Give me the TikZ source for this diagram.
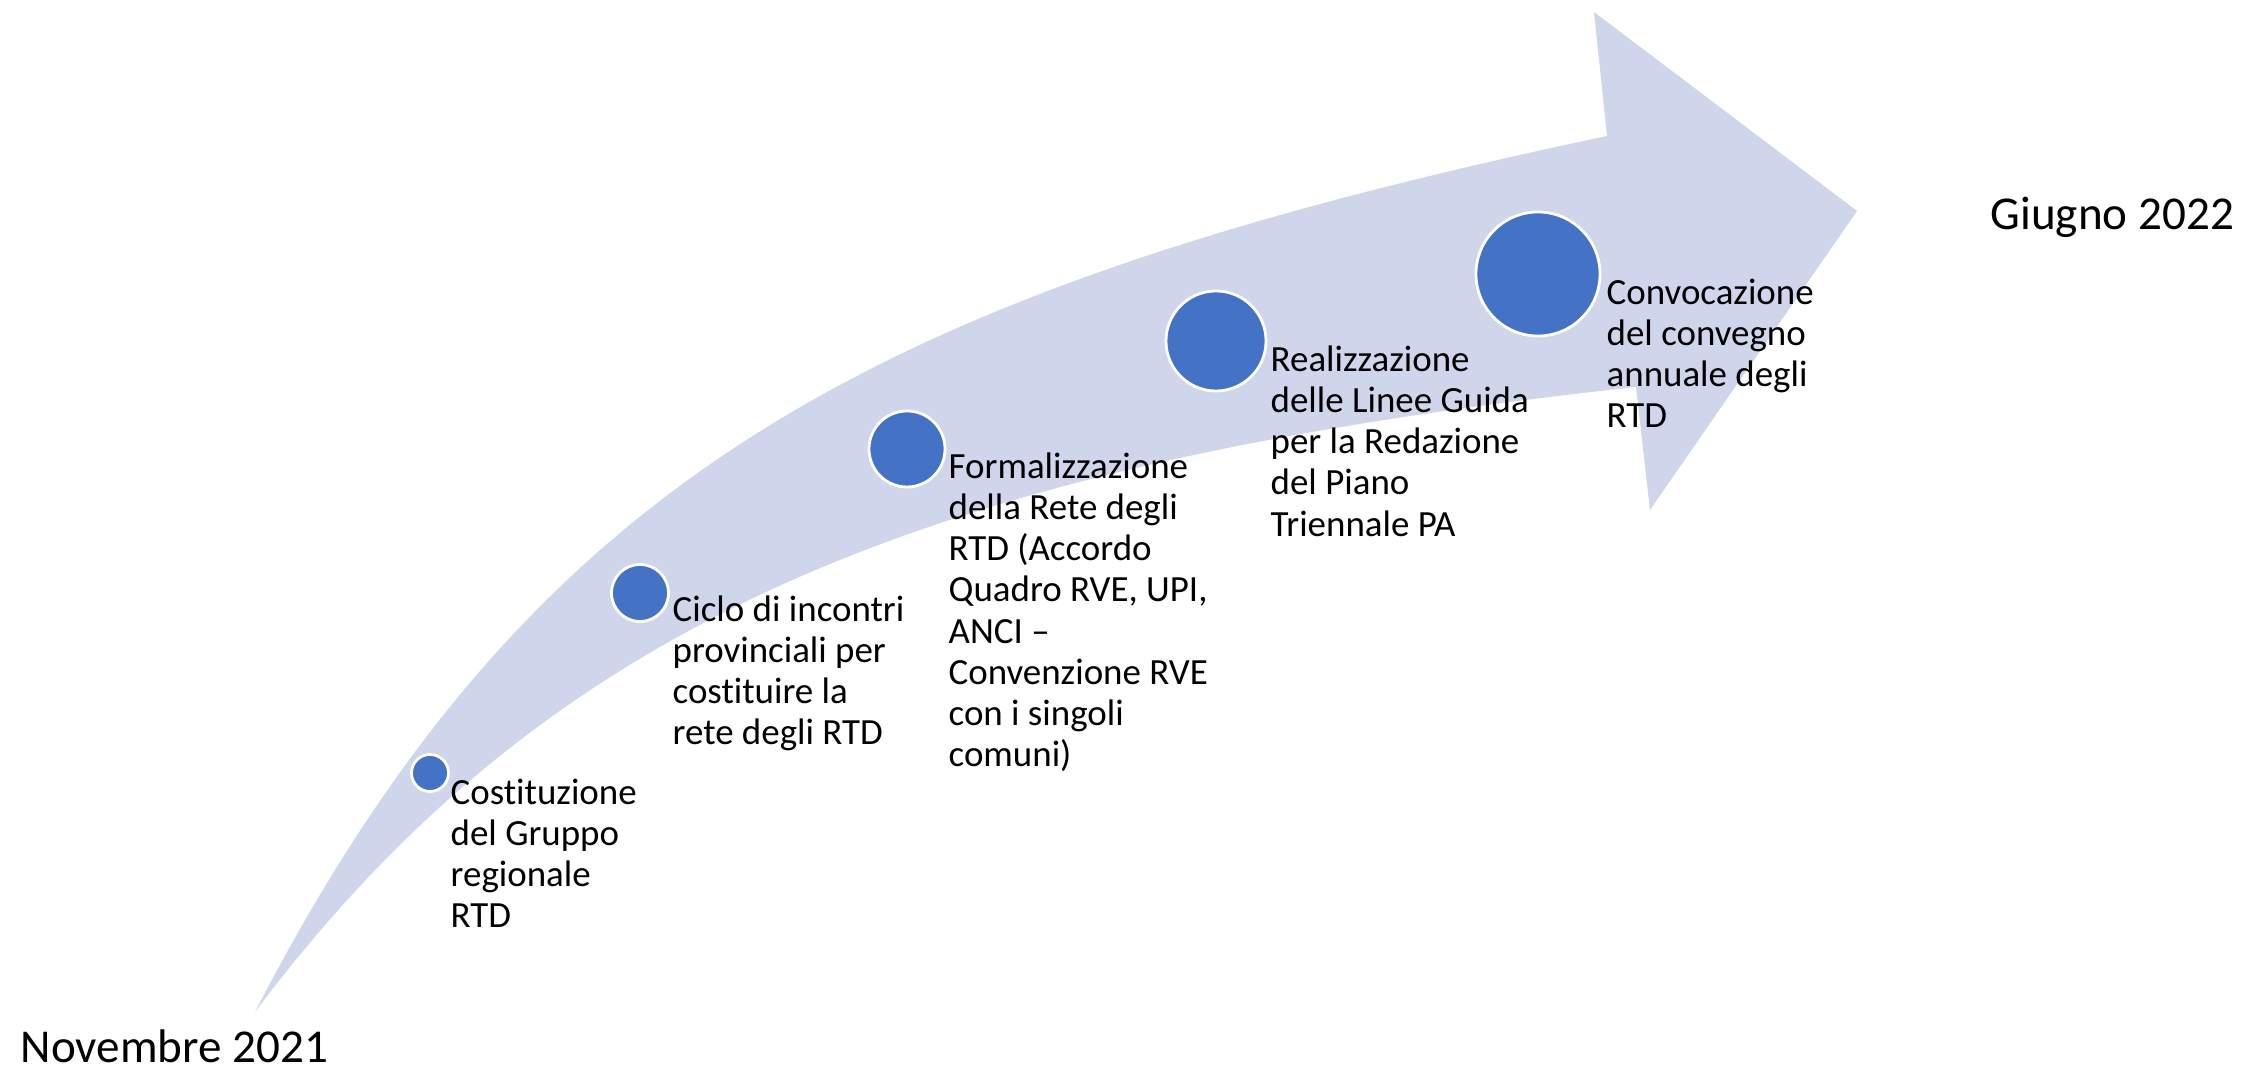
\documentclass[tikz,border=0pt]{standalone}
\usepackage{fontspec}
\setmainfont{Carlito}[Ligatures=NoCommon]
\definecolor{arrowfill}{HTML}{CFD5EA}
\definecolor{dotblue}{HTML}{4472C4}
\begin{document}
\begin{tikzpicture}[x=0.01cm,y=-0.01cm,
  dot/.style={circle, fill=dotblue, draw=white, line width=0.8pt, inner sep=0pt},
  lbl/.style={anchor=base west, inner sep=0pt, font=\fontsize{10.5}{11.66}\selectfont},
  datelbl/.style={anchor=base west, inner sep=0pt, font=\fontsize{13.4}{16}\selectfont}]
\path[use as bounding box] (0,0) rectangle (2241,1071);
% big curved arrow
\fill[arrowfill] (255,1012) .. controls (531,478) and (873,291) .. (1607,136)
  -- (1594,12) -- (1857,211) -- (1650,510) -- (1636,387)
  .. controls (940,463) and (555,612) .. (255,1012) -- cycle;
% dots
\node[dot, minimum size=0.37cm] (c1) at (430,773) {};
\node[dot, minimum size=0.57cm] (c2) at (640,593) {};
\node[dot, minimum size=0.76cm] (c3) at (907,449) {};
\node[dot, minimum size=1.0cm] (c4) at (1216,341) {};
\node[dot, minimum size=1.24cm] (c5) at (1538,274) {};
% labels
\node[lbl] (t1) at (450,805) {\parbox[t]{5cm}{Costituzione\\del Gruppo\\regionale\\RTD}};
\node[lbl] (t2) at (672,622) {\parbox[t]{5cm}{Ciclo di incontri\\provinciali per\\costituire la\\rete degli RTD}};
\node[lbl] (t3) at (948,479) {\parbox[t]{5cm}{Formalizzazione\\della Rete degli\\RTD (Accordo\\Quadro RVE, UPI,\\ANCI --\\Convenzione RVE\\con i singoli\\comuni)}};
\node[lbl] (t4) at (1270,372) {\parbox[t]{5cm}{Realizzazione\\delle Linee Guida\\per la Redazione\\del Piano\\Triennale PA}};
\node[lbl] (t5) at (1606,305) {\parbox[t]{5cm}{Convocazione\\del convegno\\annuale degli\\RTD}};
\node[datelbl] (start) at (20,1063) {Novembre 2021};
\node[datelbl] (end) at (1990,230) {Giugno 2022};
\end{tikzpicture}
\end{document}
